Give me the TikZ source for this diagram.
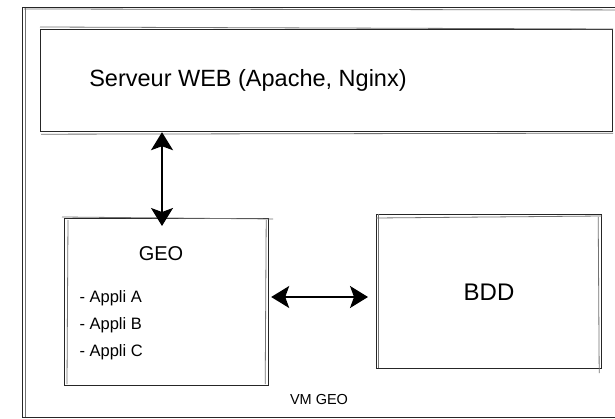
\documentclass[tikz,border=0pt]{standalone}
\usepackage{fontspec}
\setmainfont{Liberation Sans}
\usetikzlibrary{arrows.meta}
\begin{document}
\begin{tikzpicture}[x=1pt,y=-1pt,
  sketch/.style={draw=black!85,line width=1.2pt,inner sep=0pt},
  ghost/.style={draw=black!55,line width=0.8pt},
  link/.style={line width=1.6pt,>={Stealth[length=18pt,width=22pt,inset=4pt]},<->},
  lbl/.style={font=\fontsize{#1}{#1}\selectfont}]
\useasboundingbox (0,0) rectangle (615,419);
\clip (0,0) rectangle (615,419);
\fill[white] (0,0) rectangle (615,419);
% outer VM box
\node[sketch,minimum width=640pt,minimum height=410pt,anchor=north west] (vm) at (22,7) {};
\draw[ghost] ([shift={(2,2)}]vm.north west) -- ([shift={(0,3)}]vm.north east);
\draw[ghost] ([shift={(3,1)}]vm.north west) -- ([shift={(3,-1)}]vm.south west);
% web server
\node[sketch,minimum width=572pt,minimum height=102pt,anchor=north west] (web) at (40,29) {};
\draw[ghost] ([shift={(0,-2)}]web.north west) -- ([shift={(0,0)}]web.north east);
\draw[ghost] ([shift={(1,2)}]web.south west) -- ([shift={(0,1)}]web.south east);
\node[lbl=23.5] (webt) at (248,80) {Serveur WEB (Apache, Nginx)};
% GEO
\node[sketch,minimum width=204pt,minimum height=167pt,anchor=north west] (geo) at (64,218) {};
\draw[ghost] ([shift={(-2,-1)}]geo.north west) -- ([shift={(4,1)}]geo.north east);
\draw[ghost] ([shift={(4,2)}]geo.north west) -- ([shift={(3,-2)}]geo.south west);
\draw[ghost] ([shift={(-3,2)}]geo.north east) -- ([shift={(-4,-2)}]geo.south east);
\node[lbl=20] (geot) at (161,254) {GEO};
\node[lbl=16.5,anchor=west] (a1) at (76,298) {- Appli A};
\node[lbl=16.5,anchor=west] (a2) at (76,325) {- Appli B};
\node[lbl=16.5,anchor=west] (a3) at (76,352) {- Appli C};
% BDD
\node[sketch,minimum width=225pt,minimum height=154pt,anchor=north west] (bdd) at (376,214) {};
\draw[ghost] ([shift={(0,4)}]bdd.north west) -- ([shift={(0,2)}]bdd.north east);
\draw[ghost] ([shift={(2,0)}]bdd.north west) -- ([shift={(2,-1)}]bdd.south west);
\draw[ghost] ([shift={(-4,3)}]bdd.north east) -- ([shift={(-3,4)}]bdd.south east);
\node[lbl=24] (bddt) at (489,292) {BDD};
% VM label
\node[lbl=14.5] (vmt) at (319,400) {VM GEO};
% connectors
\draw[link] (web.south -| 162,0) -- ([yshift=-8pt]geo.north -| 162,0);
\draw[link] ([xshift=2pt]geo.east |- 0,297) -- ([xshift=-8pt]bdd.west |- 0,297);
\end{tikzpicture}
\end{document}
